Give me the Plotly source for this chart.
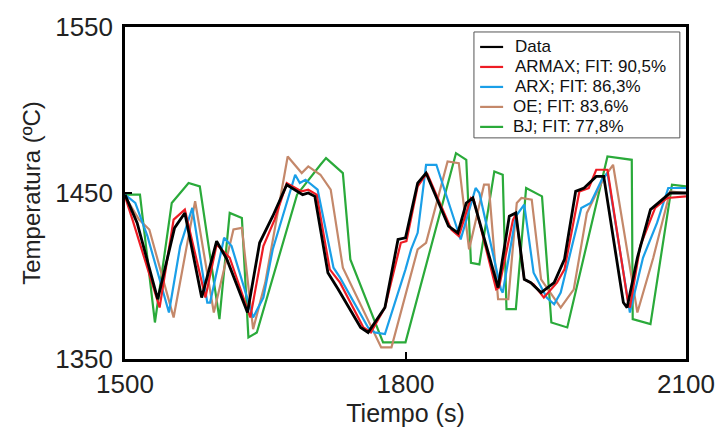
import plotly.graph_objects as go

# Data (measured)
t_data = [1500, 1513, 1535, 1553, 1564, 1582, 1598, 1609, 1631, 1644, 1658, 1673, 1690, 1696, 1703,
          1717, 1728, 1752, 1760, 1778, 1792, 1800, 1813, 1822, 1846, 1856, 1865, 1872, 1899, 1911,
          1918, 1927, 1934, 1945, 1959, 1970, 1982, 1991, 2004, 2012, 2033, 2037, 2048, 2062, 2083, 2100]
v_data = [1449, 1432, 1386, 1429, 1438, 1387, 1421, 1410, 1378, 1420, 1436, 1455, 1449, 1450, 1448,
          1402, 1392, 1369, 1366, 1381, 1422, 1423, 1456, 1462, 1430, 1426, 1444, 1447, 1393, 1436,
          1438, 1398, 1396, 1390, 1396, 1410, 1451, 1453, 1460, 1460, 1384, 1381, 1411, 1440, 1450, 1450]

# ARMAX model
t_armax = [1500, 1508, 1537, 1552, 1564, 1586, 1598, 1612, 1634, 1648, 1660, 1673, 1689, 1696, 1705,
           1719, 1730, 1755, 1763, 1778, 1795, 1801, 1813, 1823, 1849, 1857, 1870, 1873, 1897, 1900,
           1915, 1918, 1927, 1937, 1948, 1962, 1970, 1986, 1996, 2004, 2016, 2038, 2040, 2051, 2067,
           2080, 2100]
v_armax = [1448, 1434, 1381, 1434, 1440, 1387, 1419, 1411, 1375, 1418, 1434, 1456, 1451, 1452, 1449,
           1404, 1396, 1369, 1366, 1381, 1420, 1421, 1454, 1462, 1428, 1424, 1447, 1446, 1392, 1393,
           1434, 1437, 1398, 1395, 1387, 1396, 1404, 1451, 1453, 1464, 1464, 1384, 1381, 1418, 1441,
           1447, 1448]

# ARX model
t_arx = [1500, 1511, 1524, 1547, 1559, 1572, 1588, 1591, 1606, 1614, 1637, 1648, 1658, 1682, 1687,
         1693, 1706, 1723, 1730, 1760, 1767, 1778, 1800, 1806, 1813, 1822, 1833, 1859, 1875, 1879,
         1902, 1904, 1918, 1927, 1937, 1951, 1959, 1966, 1988, 1998, 2010, 2016, 2040, 2054, 2069,
         2081, 2100]
v_arx = [1449, 1444, 1424, 1378, 1418, 1441, 1384, 1384, 1423, 1418, 1375, 1387, 1416, 1461, 1456,
         1458, 1452, 1405, 1399, 1369, 1366, 1365, 1404, 1416, 1426, 1467, 1467, 1422, 1453, 1450,
         1392, 1390, 1436, 1443, 1402, 1387, 1383, 1390, 1441, 1444, 1458, 1462, 1378, 1411, 1432,
         1453, 1453]

# OE model
t_oe = [1500, 1515, 1526, 1552, 1568, 1575, 1595, 1616, 1625, 1637, 1650, 1674, 1689, 1696, 1709,
        1720, 1733, 1767, 1774, 1785, 1801, 1813, 1822, 1845, 1857, 1868, 1884, 1889, 1899, 1910,
        1919, 1924, 1935, 1945, 1966, 1980, 1994, 2012, 2022, 2048, 2065, 2083, 2100]
v_oe = [1448, 1434, 1428, 1375, 1424, 1445, 1378, 1428, 1429, 1368, 1396, 1472, 1462, 1466, 1461,
        1452, 1405, 1365, 1357, 1357, 1390, 1416, 1420, 1469, 1468, 1416, 1455, 1455, 1386, 1386,
        1444, 1447, 1446, 1398, 1381, 1392, 1438, 1459, 1467, 1378, 1411, 1451, 1450]

# BJ model
t_bj = [1500, 1516, 1532, 1550, 1568, 1580, 1601, 1612, 1625, 1632, 1641, 1684, 1709, 1715, 1733,
        1741, 1776, 1800, 1854, 1865, 1870, 1879, 1895, 1904, 1908, 1918, 1929, 1946, 1956, 1973,
        2016, 2042, 2043, 2062, 2085, 2100]
v_bj = [1449, 1449, 1372, 1444, 1456, 1454, 1374, 1438, 1435, 1363, 1366, 1449, 1467, 1471, 1462,
        1410, 1360, 1360, 1474, 1470, 1408, 1407, 1463, 1461, 1380, 1380, 1453, 1448, 1372, 1369,
        1472, 1470, 1374, 1371, 1455, 1454]

names = ["Data", "ARMAX; FIT: 90,5%", "ARX; FIT: 86,3%", "OE; FIT: 83,6%", "BJ; FIT: 77,8%"]
colors = ["#000000", "#ee1c24", "#1a9fe8", "#c4886a", "#2aaa3a"]
widths = [2.8, 2.2, 2.2, 2.2, 2.2]
xs = [t_data, t_armax, t_arx, t_oe, t_bj]
ys = [v_data, v_armax, v_arx, v_oe, v_bj]

fig = go.Figure()
# draw in reverse so Data sits on top
for i in reversed(range(len(names))):
    fig.add_trace(go.Scatter(x=xs[i], y=ys[i], mode="lines", name=names[i],
                             line=dict(color=colors[i], width=widths[i]), showlegend=False))

# legend box (paper coordinates)
lx0, lx1, ly0, ly1 = 0.622, 0.989, 0.666, 0.985
fig.add_shape(type="rect", xref="paper", yref="paper", x0=lx0, x1=lx1, y0=ly0, y1=ly1,
              line=dict(color="#555555", width=1), fillcolor="white", layer="above")
row_h = (ly1 - ly0) / 5.3
for i, (n, c) in enumerate(zip(names, colors)):
    yc = ly1 - row_h * (0.75 + i)
    fig.add_shape(type="line", xref="paper", yref="paper",
                  x0=lx0 + 0.011, x1=lx0 + 0.052, y0=yc, y1=yc,
                  line=dict(color=c, width=2.2), layer="above")
    fig.add_annotation(xref="paper", yref="paper", x=lx0 + 0.07 - (0.004 if i >= 3 else 0), y=yc,
                       text=n, showarrow=False, xanchor="left", yanchor="middle",
                       font=dict(size=17, color="#111111"))

fig.update_layout(
    width=718, height=432,
    margin=dict(l=125, r=32, t=27, b=73),
    paper_bgcolor="white", plot_bgcolor="white",
    font=dict(family="Liberation Sans, Arial, sans-serif", color="#222222"),
    showlegend=False,
)
fig.update_xaxes(range=[1500, 2100], tickvals=[1500, 1800, 2100], automargin=False,
                 ticks="inside", ticklen=7, tickwidth=2, tickcolor="black",
                 showline=True, linecolor="black", linewidth=2.5, mirror=True,
                 showgrid=False, zeroline=False,
                 tickfont=dict(size=26), title=dict(text="Tiempo (s)", font=dict(size=25), standoff=6))
fig.update_yaxes(range=[1350, 1550], tickvals=[1350, 1450, 1550], automargin=False,
                 ticks="inside", ticklen=7, tickwidth=2, tickcolor="black",
                 showline=True, linecolor="black", linewidth=2.5, mirror=True,
                 showgrid=False, zeroline=False, ticklabelstandoff=4,
                 tickfont=dict(size=26), title=dict(text="Temperatura (ºC)", font=dict(size=24), standoff=8))

fig.write_html("out.html")
